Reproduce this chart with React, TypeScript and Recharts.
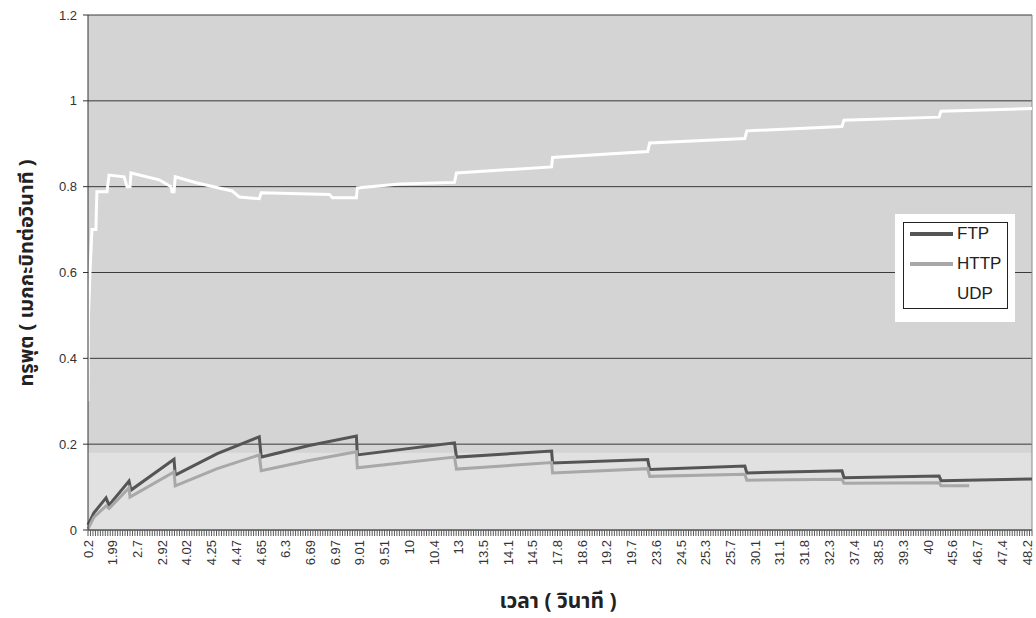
import React from 'react';
import {
  LineChart, Line, XAxis, YAxis, CartesianGrid, Legend, ReferenceLine, ReferenceArea,
} from 'recharts';

// Category labels shown on the time axis (one per label slot)
const xTickLabels = [
  '0.2', '1.99', '2.7', '2.92', '4.02', '4.25', '4.47', '4.65', '6.3', '6.69',
  '6.97', '9.01', '9.51', '10', '10.4', '13', '13.5', '14.1', '14.5', '17.8',
  '18.6', '19.2', '19.7', '23.6', '24.5', '25.3', '25.7', '30.1', '31.1', '31.8',
  '32.3', '37.4', '38.5', '39.3', '40', '45.6', '46.7', '47.4', '48.2',
];
const yTicks = [0, 0.2, 0.4, 0.6, 0.8, 1, 1.2];

// Positions are in label-slot units along the category axis
const ftpPos = [0, 0.24, 0.73, 0.85, 1.66, 1.74, 3.48, 3.53, 5.23, 6.93, 7.01, 8.95, 10.86, 10.9,
  14.83, 14.91, 18.76, 18.8, 22.65, 22.73, 26.58, 26.66, 30.51, 30.59, 34.44, 34.52, 38.2];
const ftpVal = [0.012, 0.04, 0.075, 0.058, 0.114, 0.093, 0.165, 0.128, 0.178, 0.217, 0.17, 0.197, 0.219, 0.175,
  0.203, 0.17, 0.184, 0.156, 0.164, 0.141, 0.149, 0.133, 0.138, 0.122, 0.126, 0.115, 0.119];

const httpPos = [0, 0.24, 0.73, 0.85, 1.66, 1.7, 3.48, 3.53, 5.23, 6.93, 7.01, 8.95, 10.86, 10.9,
  14.83, 14.91, 18.76, 18.8, 22.65, 22.73, 26.58, 26.66, 30.51, 30.59, 34.44, 34.52, 35.66];
const httpVal = [0.003, 0.03, 0.056, 0.05, 0.098, 0.077, 0.135, 0.103, 0.143, 0.175, 0.138, 0.162, 0.182, 0.145,
  0.17, 0.142, 0.157, 0.133, 0.143, 0.125, 0.13, 0.116, 0.118, 0.109, 0.11, 0.103, 0.103];

const udpPos = [0, 0.02, 0.08, 0.16, 0.32, 0.36, 0.77, 0.85, 1.46, 1.58, 1.7, 1.74, 2.88, 3.36, 3.4, 3.48, 3.53,
  4.38, 5.83, 6.12, 6.93, 7.01, 9.77, 9.89, 10.86, 10.9, 12.6, 14.83, 14.91, 18.76, 18.8, 22.65, 22.73,
  26.58, 26.66, 30.51, 30.59, 34.44, 34.52, 38.2];
const udpVal = [0.3, 0.5, 0.6, 0.7, 0.7, 0.788, 0.788, 0.827, 0.823, 0.8, 0.8, 0.832, 0.816, 0.8, 0.788, 0.788, 0.823,
  0.809, 0.79, 0.776, 0.772, 0.786, 0.782, 0.774, 0.774, 0.797, 0.806, 0.81, 0.832, 0.846, 0.868, 0.882, 0.902,
  0.912, 0.93, 0.94, 0.955, 0.962, 0.976, 0.982];

const seriesNames = ['FTP', 'HTTP', 'UDP'];
const seriesColors = ['#555555', '#a8a8a8', '#ffffff'];

const toPoints = (pos: number[], val: number[]) => pos.map((p, i) => ({ pos: p, v: val[i] }));
const seriesData = [toPoints(ftpPos, ftpVal), toPoints(httpPos, httpVal), toPoints(udpPos, udpVal)];

const X_MAX = 38.2;
const minorTicks: number[] = [];
for (let i = 0; i <= 382; i++) minorTicks.push(i / 10);

const FONT = '"Liberation Sans", Arial, Helvetica, sans-serif';
const THAI_FONT = '"Noto Sans Thai", "Noto Sans", "DejaVu Sans", sans-serif';

const XTick = (props: any) => {
  const { x, y, payload } = props;
  const v = payload.value as number;
  const idx = Math.round(v);
  const major = Math.abs(v - idx) < 1e-6;
  return (
    <g>
      <rect x={x - 0.5} y={y} width={1} height={6} fill="#5a5a5a" />
      {major && xTickLabels[idx] !== undefined && (
        <text
          x={x - 10}
          y={y}
          dy="0.35em"
          transform={`rotate(-90, ${x}, ${y})`}
          textAnchor="end"
          fontFamily={FONT}
          fontSize={13}
          fill="#333"
        >
          {xTickLabels[idx]}
        </text>
      )}
    </g>
  );
};

const renderLegend = () => (
  <div style={{ width: 120, height: 108, background: '#ffffff', boxSizing: 'border-box', padding: '8px 7px 13px 8px' }}>
    <div style={{ position: 'relative', width: '100%', height: '100%', border: '1px solid #222', boxSizing: 'border-box' }}>
      {seriesNames.map((n, i) => (
        <div key={n} style={{ position: 'absolute', left: 0, top: 1 + 30 * i, height: 20, display: 'flex', alignItems: 'center' }}>
          <div style={{ marginLeft: 6, width: 43, height: 4, background: seriesColors[i] }} />
          <span style={{ marginLeft: 4, fontFamily: FONT, fontSize: 17, color: '#222', lineHeight: '20px' }}>{n}</span>
        </div>
      ))}
    </div>
  </div>
);

export default function App() {
  return (
    <div style={{ position: 'absolute', left: 0, top: 0, width: 1036, height: 618, background: '#ffffff' }}>
      <LineChart width={1036} height={618} margin={{ top: 15, right: 4, bottom: 0, left: 0 }}>
        <CartesianGrid vertical={false} stroke="#3a3a3a" fill="#d4d4d4" fillOpacity={1} />
        <ReferenceArea y1={0} y2={0.18} fill="#ffffff" fillOpacity={0.3} stroke="none" />
        <ReferenceLine x={X_MAX} stroke="#8a8a8a" />
        <XAxis
          dataKey="pos"
          type="number"
          domain={[0, X_MAX]}
          ticks={minorTicks}
          interval={0}
          height={88}
          tickSize={0}
          tickMargin={0}
          tickLine={false}
          axisLine={{ stroke: '#444' }}
          tick={XTick}
          allowDuplicatedCategory
        />
        <YAxis
          type="number"
          domain={[0, 1.2]}
          ticks={yTicks}
          interval={0}
          width={88}
          tickSize={5}
          tickMargin={6}
          axisLine={{ stroke: '#333' }}
          tickLine={{ stroke: '#333' }}
          tick={{ fontFamily: FONT, fontSize: 13, fill: '#333' }}
          tickFormatter={(v: number) => String(Number(v.toFixed(1)))}
        />
        {seriesNames.map((n, i) => (
          <Line
            key={n}
            data={seriesData[i]}
            dataKey="v"
            name={n}
            type="linear"
            stroke={seriesColors[i]}
            strokeWidth={3}
            dot={false}
            isAnimationActive={false}
          />
        ))}
        <Legend
          layout="horizontal"
          align="center"
          verticalAlign="middle"
          content={renderLegend}
          wrapperStyle={{ position: 'absolute', left: 895, top: 214, width: 120, height: 108 }}
        />
      </LineChart>
      <div
        style={{
          position: 'absolute', left: 27, top: 273, transform: 'translate(-50%, -50%) rotate(-90deg)',
          whiteSpace: 'nowrap', fontFamily: THAI_FONT, fontWeight: 'bold', fontSize: 20, color: '#222',
        }}
      >
        ทรูพุต ( เมกกะบิทต่อวินาที )
      </div>
      <div
        style={{
          position: 'absolute', left: 558, top: 601, transform: 'translate(-50%, -50%)',
          whiteSpace: 'nowrap', fontFamily: THAI_FONT, fontWeight: 'bold', fontSize: 21, color: '#222',
        }}
      >
        เวลา ( วินาที )
      </div>
    </div>
  );
}
